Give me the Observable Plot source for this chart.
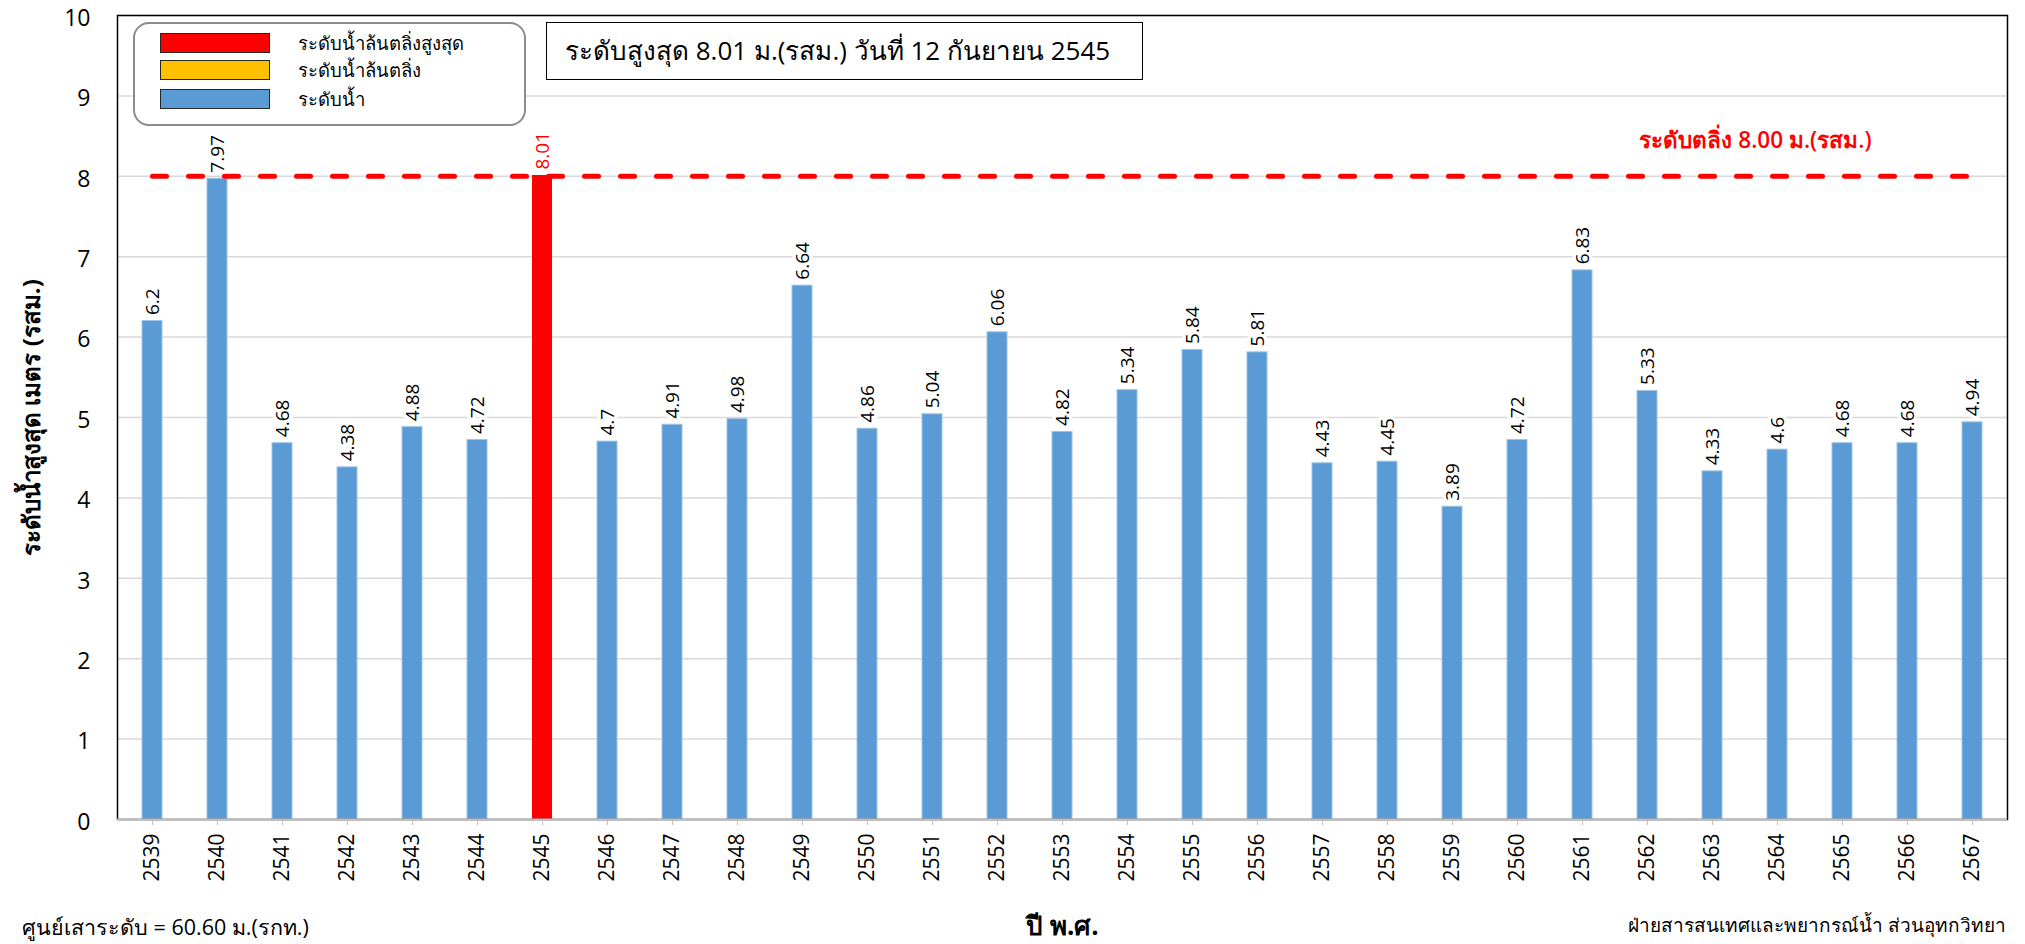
<!DOCTYPE html>
<html>
<head>
<meta charset="utf-8">
<script src="https://cdn.jsdelivr.net/npm/d3@7"></script>
<script src="https://cdn.jsdelivr.net/npm/@observablehq/plot@0.6"></script>
<style>
  html, body { margin: 0; padding: 0; background: #fff; }
  body { font-family: "Open Sans", "Noto Sans", sans-serif; }
  #wrap { position: relative; width: 2025px; height: 944px; overflow: hidden; }
  #legend { position: absolute; left: 133px; top: 22px; width: 389px; height: 100px;
    border: 2px solid #8c8c8c; border-radius: 16px; background: #fff; box-sizing: content-box; }
  .lrow { position: absolute; left: 25px; height: 22px; display: flex; align-items: center; }
  .sw { width: 110px; height: 20px; border: 1.5px solid #262626; box-sizing: border-box; }
  .lt { margin-left: 28px; font-size: 18.5px; color: #000; white-space: nowrap; }
  #title { position: absolute; left: 546px; top: 22px; width: 597px; height: 58px;
    border: 1.5px solid #000; box-sizing: border-box; background: #fff;
    font-size: 26px; line-height: 55px; padding-left: 18px; white-space: nowrap; }
  .note { position: absolute; top: 910px; color: #000; white-space: nowrap; }
</style>
</head>
<body>
<div id="wrap"></div>
<script>
// ---- data ----
const years = ["2539","2540","2541","2542","2543","2544","2545","2546","2547","2548",
  "2549","2550","2551","2552","2553","2554","2555","2556","2557","2558",
  "2559","2560","2561","2562","2563","2564","2565","2566","2567"];
const values = [6.2, 7.97, 4.68, 4.38, 4.88, 4.72, 8.01, 4.7, 4.91, 4.98,
  6.64, 4.86, 5.04, 6.06, 4.82, 5.34, 5.84, 5.81, 4.43, 4.45,
  3.89, 4.72, 6.83, 5.33, 4.33, 4.6, 4.68, 4.68, 4.94];
const bankLevel = 8.00;
const yTicks = [0,1,2,3,4,5,6,7,8,9,10];
const legendLabels = ["ระดับน้ำล้นตลิ่งสูงสุด", "ระดับน้ำล้นตลิ่ง", "ระดับน้ำ"];
const legendColors = ["#ff0000", "#ffc000", "#5b9bd5"];
const titleText = "ระดับสูงสุด 8.01 ม.(รสม.) วันที่ 12 กันยายน 2545";
const bankLabel = "ระดับตลิ่ง 8.00 ม.(รสม.)";
const yLabel = "ระดับน้ำสูงสุด เมตร (รสม.)";
const xLabel = "ปี พ.ศ.";
const noteLeft = "ศูนย์เสาระดับ = 60.60 ม.(รกท.)";
const noteRight = "ฝ่ายสารสนเทศและพยากรณ์น้ำ ส่วนอุทกวิทยา";

// ---- build ----
const maxVal = d3.max(values);
const data = years.map((y, i) => ({
  year: y, value: values[i],
  kind: values[i] === maxVal && values[i] > bankLevel ? 0 : (values[i] > bankLevel ? 1 : 2)
}));
const bankLine = [{year: years[0], level: bankLevel}, {year: years[years.length - 1], level: bankLevel}];

const fontFam = "'Open Sans', 'Noto Sans', sans-serif";

const chart = Plot.plot({
  width: 2025,
  height: 944,
  marginLeft: 117,
  marginRight: 18,
  marginTop: 15,
  marginBottom: 125,
  style: {fontFamily: fontFam, background: "transparent", color: "#000"},
  x: {type: "band", domain: years, paddingInner: 0.685, paddingOuter: 0.3425},
  y: {domain: [0, 10]},
  marks: [
    Plot.gridY(yTicks.filter(t => t > 0), {stroke: "#d9d9d9", strokeOpacity: 1, strokeWidth: 1.5}),
    Plot.barY(data, {x: "year", y: "value", fill: d => legendColors[d.kind], stroke: d => d.kind === 2 ? "#9dc3e6" : "none", strokeWidth: 1}),
    Plot.line(bankLine, {x: "year", y: "level", stroke: "#ff0000", strokeWidth: 5,
      strokeDasharray: "14,22", strokeLinecap: "round"}),
    Plot.text(data, {x: "year", y: "value", text: d => String(d.value), rotate: -90,
      textAnchor: "start", dy: -6, fontSize: 19,
      fill: d => d.kind === 0 ? "#ff0000" : "#000", stroke: "white", strokeWidth: 7}),
    Plot.text([{year: "2564", level: bankLevel}], {x: "year", y: "level", text: () => bankLabel,
      dy: -36, dx: -22, fill: "#ff0000", fontSize: 22.5, fontWeight: 600}),
    Plot.frame({stroke: "#000", strokeWidth: 1.5}),
    Plot.ruleY([0], {stroke: "#bfbfbf", strokeWidth: 2}),
    Plot.axisX({tickRotate: -90, tickSize: 6, tickPadding: 8, fontSize: 21, stroke: "#bfbfbf",
      label: xLabel, labelAnchor: "center", labelOffset: 115}),
    Plot.axisY(yTicks, {tickSize: 0, tickPadding: 27, fontSize: 23, dy: 3, tickFormat: d => String(d),
      label: null}),
    Plot.axisY({ticks: [], tickSize: 0, label: yLabel, labelArrow: "none", labelAnchor: "center", labelOffset: 95})
  ]
});

const wrap = document.getElementById("wrap");
wrap.appendChild(chart);
chart.style.position = "absolute";
chart.style.left = "0px";
chart.style.top = "0px";

// axis labels styling
chart.querySelectorAll("[aria-label='x-axis label'] text").forEach(t => {
  t.setAttribute("font-weight", "bold");
  t.setAttribute("font-size", "26");
});
chart.querySelectorAll("[aria-label='y-axis label'] text").forEach(t => {
  t.setAttribute("font-weight", "bold");
  t.setAttribute("font-size", "24");
  t.textContent = t.textContent.replace(/[\u2190-\u2193]\s*/g, "").replace(/\s*[\u2190-\u2193]/g, "");
});

// legend
const legend = document.createElement("div");
legend.id = "legend";
legendLabels.forEach((lab, i) => {
  const row = document.createElement("div");
  row.className = "lrow";
  row.style.top = [8, 35, 64][i] + "px";
  const sw = document.createElement("div");
  sw.className = "sw";
  sw.style.background = legendColors[i];
  const lt = document.createElement("span");
  lt.className = "lt";
  lt.textContent = lab;
  row.appendChild(sw); row.appendChild(lt);
  legend.appendChild(row);
});
wrap.appendChild(legend);

const title = document.createElement("div");
title.id = "title";
title.textContent = titleText;
wrap.appendChild(title);

const nl = document.createElement("div");
nl.className = "note"; nl.style.left = "22px"; nl.style.fontSize = "21.5px"; nl.textContent = noteLeft;
wrap.appendChild(nl);
const nr = document.createElement("div");
nr.className = "note"; nr.style.right = "19px"; nr.style.fontSize = "19px"; nr.textContent = noteRight;
wrap.appendChild(nr);
</script>
</body>
</html>
